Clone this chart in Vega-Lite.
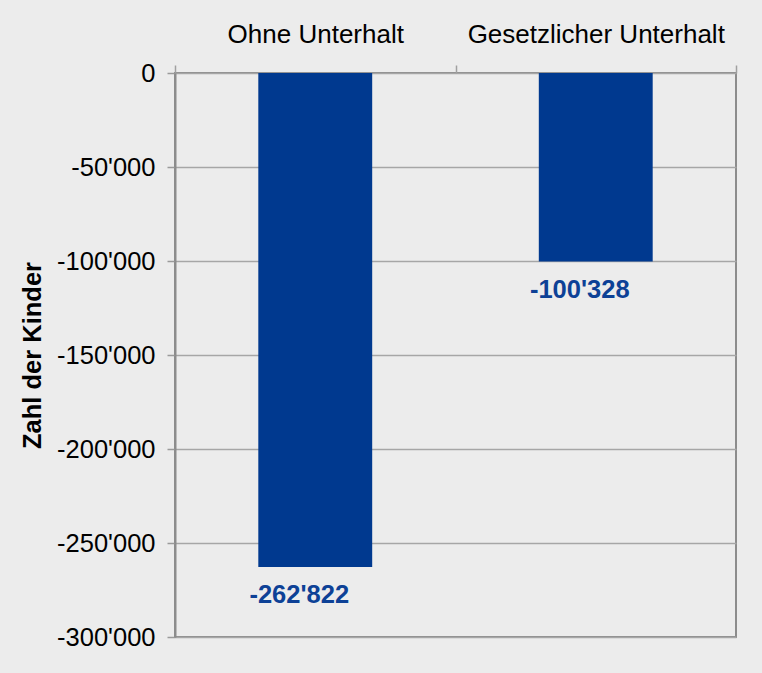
{
  "$schema": "https://vega.github.io/schema/vega-lite/v6.json",
  "width": 561,
  "height": 564,
  "autosize": {"type": "none"},
  "padding": {"left": 175, "top": 73, "right": 26, "bottom": 36},
  "background": "#ECECEC",
  "data": {
    "values": [
      {"kategorie": "Ohne Unterhalt", "kinder": -262822},
      {"kategorie": "Gesetzlicher Unterhalt", "kinder": -100328}
    ]
  },
  "encoding": {
    "x": {
      "field": "kategorie",
      "type": "nominal",
      "sort": null,
      "scale": {"paddingInner": 0, "paddingOuter": 0},
      "axis": {
        "orient": "top",
        "title": null,
        "labelAngle": 0,
        "labelLimit": 0,
        "labelFont": "Liberation Sans",
        "labelFontSize": 26,
        "labelColor": "#000000",
        "labelBaseline": "alphabetic",
        "labelPadding": 23,
        "tickBand": "extent",
        "tickSize": 8,
        "tickColor": "#A0A0A0",
        "tickWidth": 1.5,
        "domain": false,
        "grid": false
      }
    },
    "y": {
      "field": "kinder",
      "type": "quantitative",
      "scale": {"domain": [-300000, 0], "nice": false},
      "axis": {
        "title": "Zahl der Kinder",
        "titleFont": "Liberation Sans",
        "titleFontSize": 25.5,
        "titleFontWeight": "bold",
        "titleColor": "#000000",
        "titlePadding": 11,
        "values": [0, -50000, -100000, -150000, -200000, -250000, -300000],
        "format": ",d",
        "labelFont": "Liberation Sans",
        "labelFontSize": 25.5,
        "labelColor": "#000000",
        "labelPadding": 12,
        "tickSize": 8,
        "tickColor": "#9A9A9A",
        "tickWidth": 1.5,
        "domainColor": "#8C8C8C",
        "domainWidth": 2,
        "grid": true,
        "gridColor": "#A6A6A6",
        "gridWidth": 1.5
      }
    }
  },
  "layer": [
    {
      "mark": {"type": "bar", "color": "#00398F", "width": {"band": 0.406}}
    },
    {
      "mark": {
        "type": "text",
        "font": "Liberation Sans",
        "fontSize": 25.5,
        "fontWeight": "bold",
        "color": "#0D4196",
        "baseline": "alphabetic",
        "align": "center",
        "dx": -16,
        "dy": 36
      },
      "encoding": {
        "text": {"field": "kinder", "type": "quantitative", "format": ",d"}
      }
    }
  ],
  "config": {
    "locale": {
      "number": {
        "decimal": ".",
        "thousands": "'",
        "grouping": [3],
        "currency": ["", ""],
        "minus": "-"
      }
    },
    "view": {"stroke": "#8C8C8C", "strokeWidth": 2, "fill": "#ECECEC"}
  }
}
